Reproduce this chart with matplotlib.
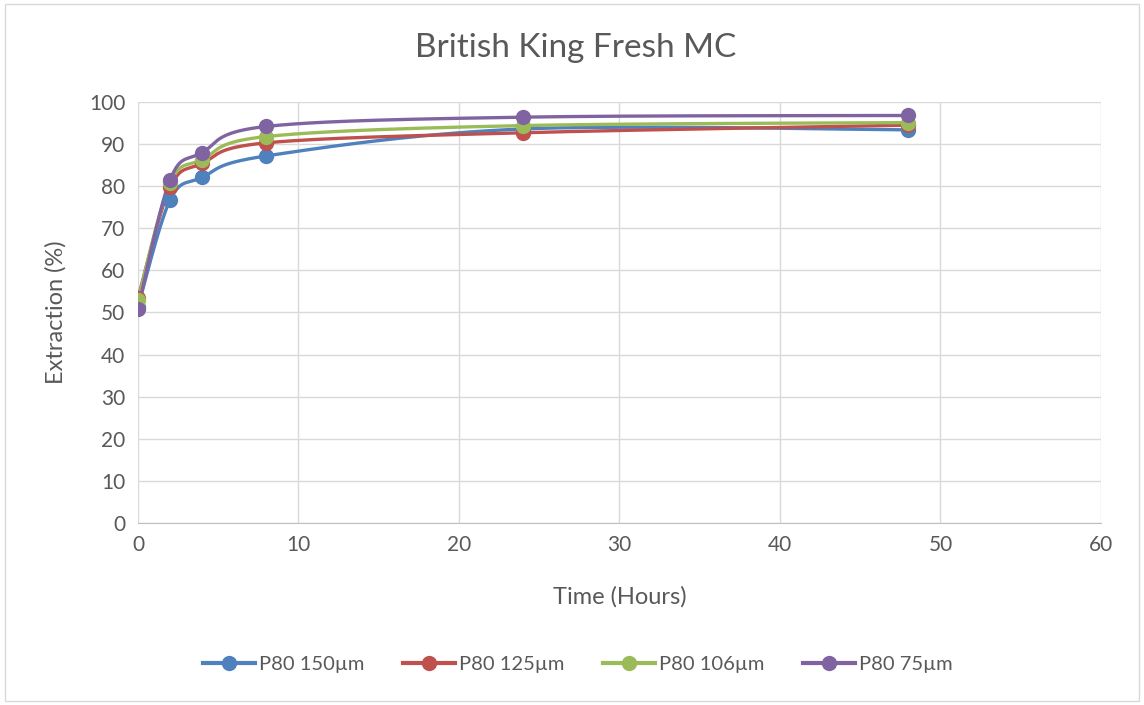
import matplotlib.pyplot as plt
import numpy as np
from matplotlib.lines import Line2D
from matplotlib.patches import Rectangle

hours = [0, 2, 4, 8, 24, 48]
p80_150 = [51.3, 76.7, 82.1, 87.2, 93.6, 93.4]
p80_125 = [53.4, 79.7, 85.4, 90.3, 92.7, 94.5]
p80_106 = [52.9, 80.7, 86.3, 91.8, 94.4, 95.1]
p80_75 = [50.9, 81.5, 88.0, 94.2, 96.4, 96.8]

labels = ["P80 150µm", "P80 125µm", "P80 106µm", "P80 75µm"]
colors = ["#4F81BD", "#C0504D", "#9BBB59", "#8064A2"]

plt.rcParams["font.family"] = ["Lato", "DejaVu Sans"]


def smooth(x, y, n=40):
    # cubic bezier through points, handles at +/- (P[i+1]-P[i-1])/6
    p = np.column_stack([x, y]).astype(float)
    ext = np.vstack([p[0], p, p[-1]])
    out = []
    t = np.linspace(0, 1, n)[:, None]
    for i in range(len(p) - 1):
        p0, p3 = p[i], p[i + 1]
        c1 = p0 + (ext[i + 2] - ext[i]) / 6
        c2 = p3 - (ext[i + 3] - ext[i + 1]) / 6
        seg = ((1 - t) ** 3) * p0 + 3 * ((1 - t) ** 2) * t * c1 + 3 * (1 - t) * t ** 2 * c2 + t ** 3 * p3
        out.append(seg if i == 0 else seg[1:])
    seg = np.vstack(out)
    return seg[:, 0], seg[:, 1]


fig = plt.figure(figsize=(11.44, 7.05), dpi=100)
fig.patches.append(Rectangle((0.004, 0.006), 0.992, 0.988, transform=fig.transFigure,
                             fill=False, edgecolor="#D9D9D9", linewidth=1))
ax = fig.add_axes([0.1206, 0.2582, 0.8418, 0.5971])

for ys, c in zip([p80_150, p80_125, p80_106, p80_75], colors):
    sx, sy = smooth(hours, ys)
    ax.plot(sx, sy, color=c, linewidth=2.4, solid_capstyle="round", zorder=3)
    ax.plot(hours, ys, "o", color=c, markersize=10, zorder=4)

ax.set_xlim(0, 60)
ax.set_ylim(0, 100)
ax.set_xticks(range(0, 61, 10))
ax.set_yticks(range(0, 101, 10))
ax.grid(True, color="#D9D9D9", linewidth=1)
ax.set_axisbelow(True)
for side in ["top", "right", "left"]:
    ax.spines[side].set_visible(False)
ax.spines["bottom"].set_color("#BFBFBF")
ax.tick_params(length=0, labelsize=15, labelcolor="#595959", pad=9)

fig.text(0.503, 0.932, "British King Fresh MC", fontsize=24, color="#595959",
         ha="center", va="center")
ax.set_xlabel("Time (Hours)", fontsize=17, color="#595959", labelpad=22)
ax.set_ylabel("Extraction (%)", fontsize=17, color="#595959", labelpad=16)

handles = [Line2D([0], [0], color=c, linewidth=3, marker="o", markersize=10) for c in colors]
fig.legend(handles, labels, loc="center", bbox_to_anchor=(0.505, 0.057), ncol=4,
           frameon=False, fontsize=14.5, labelcolor="#595959", handlelength=2.6,
           handletextpad=0.2, columnspacing=1.9)

fig.savefig("out.png", dpi=100)
